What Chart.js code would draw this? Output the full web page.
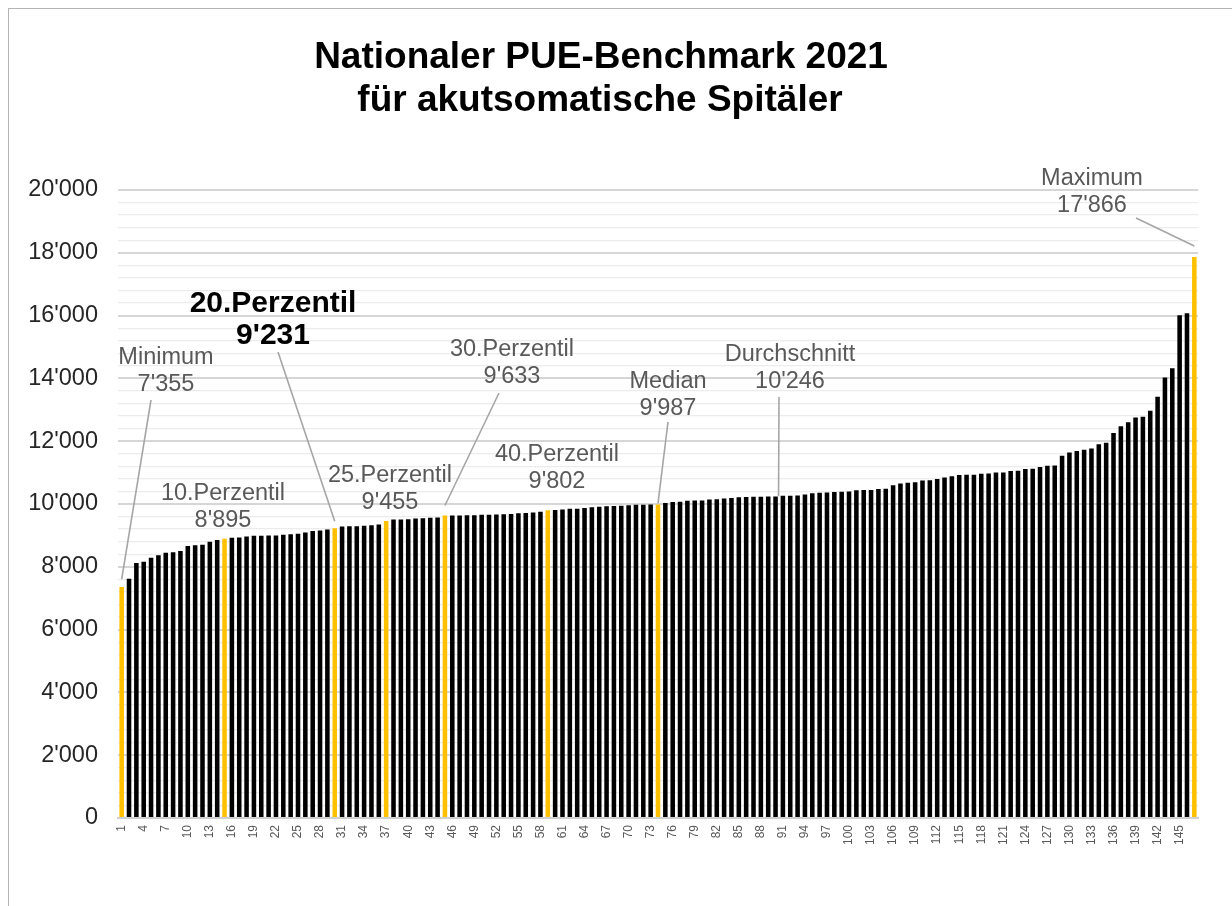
<!DOCTYPE html>
<html>
<head>
<meta charset="utf-8">
<script src="https://cdn.jsdelivr.net/npm/chart.js@4.4.1/dist/chart.umd.min.js"></script>
<style>
  html, body { margin:0; padding:0; background:#fff; overflow:hidden; }
  #wrap { position:relative; width:1232px; height:906px; }
  #frame { position:absolute; left:8px; top:8px; width:1240px; height:920px; border:1px solid #b4b4b4; box-sizing:border-box; pointer-events:none; }
  canvas { position:absolute; left:0; top:0; }
</style>
</head>
<body>
<div id="wrap">
  <canvas id="c" width="1232" height="906"></canvas>
  <div id="frame"></div>
</div>
<script>
// ---------- DATA ----------
const categories = ['1','2','3','4','5','6','7','8','9','10','11','12','13','14','15','16','17','18','19','20',
'21','22','23','24','25','26','27','28','29','30','31','32','33','34','35','36','37','38','39','40',
'41','42','43','44','45','46','47','48','49','50','51','52','53','54','55','56','57','58','59','60',
'61','62','63','64','65','66','67','68','69','70','71','72','73','74','75','76','77','78','79','80',
'81','82','83','84','85','86','87','88','89','90','91','92','93','94','95','96','97','98','99','100',
'101','102','103','104','105','106','107','108','109','110','111','112','113','114','115','116','117','118','119','120',
'121','122','123','124','125','126','127','128','129','130','131','132','133','134','135','136','137','138','139','140',
'141','142','143','144','145','146','147'];

const pueValues = [
 7355, 7620, 8120, 8160, 8290, 8370, 8450, 8460, 8500, 8660,
 8690, 8700, 8800, 8850, 8895, 8925, 8935, 8965, 8985, 8990,
 8995, 9000, 9020, 9040, 9050, 9090, 9140, 9160, 9190, 9231,
 9285, 9295, 9295, 9305, 9325, 9345, 9455, 9505, 9505, 9515,
 9535, 9545, 9560, 9570, 9633, 9633, 9635, 9640, 9645, 9655,
 9660, 9665, 9675, 9685, 9705, 9710, 9730, 9750, 9802, 9805,
 9825, 9845, 9850, 9870, 9900, 9915, 9925, 9935, 9945, 9960,
 9975, 9980, 9985, 9987, 10030, 10065, 10075, 10100, 10110, 10115,
 10145, 10155, 10175, 10195, 10215, 10225, 10230, 10230, 10235, 10240,
 10260, 10265, 10270, 10300, 10340, 10360, 10365, 10380, 10390, 10395,
 10440, 10442, 10445, 10480, 10485, 10600, 10650, 10680, 10690, 10750,
 10760, 10800, 10840, 10885, 10925, 10928, 10930, 10965, 10970, 11000,
 11005, 11050, 11055, 11115, 11120, 11180, 11220, 11225, 11540, 11640,
 11685, 11730, 11770, 11900, 11950, 12265, 12480, 12600, 12755, 12780,
 12970, 13415, 14030, 14320, 16010, 16075, 17866];

const highlightBars = [1, 15, 30, 37, 45, 59, 74, 147];

const annotationTitles = ['Minimum','10.Perzentil','20.Perzentil','25.Perzentil','30.Perzentil','40.Perzentil','Median','Durchschnitt','Maximum'];
const annotationValues = [7355, 8895, 9231, 9455, 9633, 9802, 9987, 10246, 17866];
const annotationBars   = [1, 15, 30, 37, 45, 59, 74, 90, 147];

const titleLines = ['Nationaler PUE-Benchmark 2021', 'für akutsomatische Spitäler'];

// ---------- STYLE / LAYOUT ----------
const FONT = "'Liberation Sans', Arial, sans-serif";
const annoLayout = [
  {cx:166, cy:356, from:[151,400], gap:8},
  {cx:223, cy:492},
  {cx:273, cy:301, bold:true, size:30, lh:32, from:[278,352], gap:7},
  {cx:390, cy:474},
  {cx:512, cy:348, from:[499,393], gap:10},
  {cx:557, cy:453},
  {cx:668, cy:380, from:[668,422], gap:1},
  {cx:790, cy:353, from:[779,397], gap:0, dx:3},
  {cx:1092, cy:177, from:[1136,218], gap:11}
];

function fmt(v){
  return String(Math.round(v)).replace(/\B(?=(\d{3})+(?!\d))/g, "'");
}

const barColors = pueValues.map((v,i)=> highlightBars.includes(i+1) ? '#FFC000' : '#000000');

const annoPlugin = {
  id:'anno',
  afterDatasetsDraw(chart){
    const ctx = chart.ctx;
    const xs = chart.scales.x, ys = chart.scales.y;
    ctx.save();
    // leader lines
    ctx.strokeStyle = '#a6a6a6';
    ctx.lineWidth = 1.6;
    annoLayout.forEach((L,i)=>{
      if(!L.from) return;
      const bx = xs.getPixelForValue(annotationBars[i]-1) + (L.dx||0);
      const by = ys.getPixelForValue(annotationValues[i]) - (L.gap||0);
      ctx.beginPath();
      ctx.moveTo(L.from[0], L.from[1]);
      ctx.lineTo(bx, by);
      ctx.stroke();
    });
    // labels
    ctx.textAlign = 'center';
    ctx.textBaseline = 'alphabetic';
    annoLayout.forEach((L,i)=>{
      const size = L.size || 23.5;
      const lh = L.lh || 27;
      ctx.font = (L.bold ? 'bold ' : '') + size + 'px ' + FONT;
      ctx.fillStyle = L.bold ? '#000000' : '#595959';
      ctx.fillText(annotationTitles[i], L.cx, L.cy + 0.36*size);
      ctx.fillText(fmt(annotationValues[i]), L.cx, L.cy + lh + 0.36*size);
    });
    // title
    ctx.fillStyle = '#000000';
    ctx.font = 'bold 37px ' + FONT;
    ctx.fillText(titleLines[0], 601, 68);
    ctx.fillText(titleLines[1], 600, 111);
    ctx.restore();
  }
};

new Chart(document.getElementById('c'), {
  type:'bar',
  data:{
    labels:categories,
    datasets:[{data:pueValues, backgroundColor:barColors, borderWidth:0, barPercentage:0.62, categoryPercentage:1.0}]
  },
  options:{
    responsive:false,
    animation:false,
    devicePixelRatio:1,
    layout:{padding:{top:190, right:34, left:0, bottom:0}},
    plugins:{legend:{display:false}, tooltip:{enabled:false}, title:{display:false}},
    scales:{
      x:{
        grid:{display:false, drawTicks:false},
        border:{display:true, color:'#d0d0d0', width:2},
        ticks:{
          autoSkip:false, minRotation:90, maxRotation:90,
          font:{family:FONT, size:12}, color:'#595959', padding:7,
          callback:(v,i)=> i%3===0 ? categories[i] : ''
        },
        afterFit:s=>{ s.height = 88; }
      },
      y:{
        min:0, max:20000,
        grid:{
          drawTicks:false,
          color:c=> (c.tick && c.tick.value % 2000 === 0) ? '#d6d6d6' : '#ececec',
          lineWidth:c=> (c.tick && c.tick.value % 2000 === 0) ? 2 : 1.3
        },
        border:{display:false},
        ticks:{
          stepSize:400, autoSkip:false, padding:20,
          font:{family:FONT, size:23.5}, color:'#262626',
          callback:v=> (v % 2000 === 0) ? fmt(v) : ''
        },
        afterFit:s=>{ s.width = 118; }
      }
    }
  },
  plugins:[annoPlugin]
});
</script>
</body>
</html>
